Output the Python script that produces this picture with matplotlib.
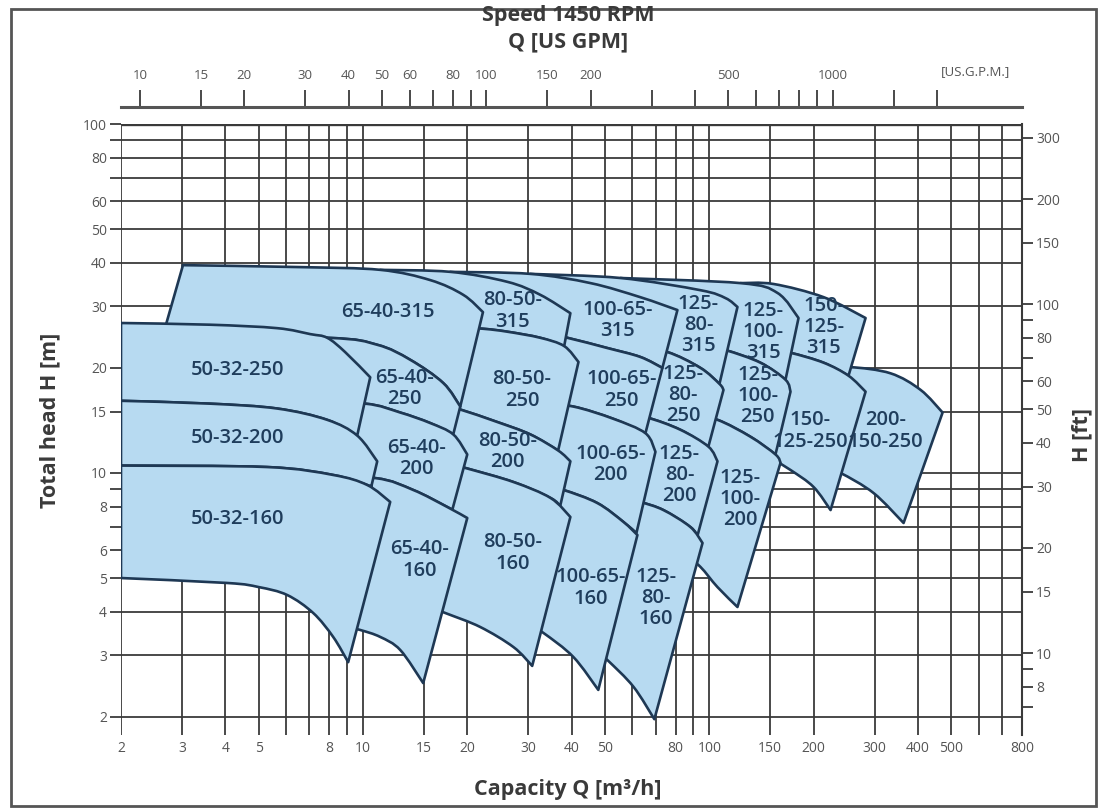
import matplotlib
matplotlib.use("Agg")
import matplotlib.pyplot as plt
import numpy as np
from matplotlib.patches import PathPatch, Rectangle
from matplotlib.path import Path
from matplotlib.ticker import NullLocator

plt.rcParams["font.family"] = ["Open Sans", "DejaVu Sans"]

M3H_TO_GPM = 4.4029
M_TO_FT = 3.28084

Q_GRID = [2, 3, 4, 5, 6, 7, 8, 9, 10, 15, 20, 30, 40, 50, 60, 70, 80, 90,
          100, 150, 200, 300, 400, 500, 600, 700, 800]
Q_LABELS = [2, 3, 4, 5, 8, 10, 15, 20, 30, 40, 50, 80, 100, 150, 200, 300, 400, 500, 800]
H_GRID = [2, 3, 4, 5, 6, 7, 8, 9, 10, 15, 20, 30, 40, 50, 60, 70, 80, 90, 100]
H_LABELS = [2, 3, 4, 5, 6, 8, 10, 15, 20, 30, 40, 50, 60, 80, 100]
FT_TICKS = [7, 8, 9, 10, 15, 20, 30, 40, 50, 60, 70, 80, 90, 100, 150, 200, 300]
FT_LABELS = [8, 10, 15, 20, 30, 40, 50, 60, 80, 100, 150, 200, 300]
GPM_TICKS = [10, 15, 20, 30, 40, 50, 60, 70, 80, 90, 100, 150, 200, 300, 400, 500,
             600, 700, 800, 900, 1000, 1500, 2000]
GPM_LABELS = [10, 15, 20, 30, 40, 50, 60, 80, 100, 150, 200, 500, 1000]

# pump ranges: top curves (Q m3/h, H m), right-hand corner, bottom curves of lowest tiles
top_5032_250 = [(2.0, 26.9), (3.61, 26.6), (5.65, 26.0), (7.04, 25.0), (7.88, 24.4), (8.88, 22.2), (10.49, 18.8)]
corner_5032_250 = (9.62, 12.8)
top_5032_200 = [(2.0, 16.1), (3.61, 15.8), (5.65, 15.3), (7.88, 14.2), (9.62, 12.8), (10.99, 10.8)]
corner_5032_200 = (10.56, 9.12)
top_5032_160 = [(2.0, 10.5), (5.28, 10.4), (8.20, 9.87), (10.28, 9.24), (11.98, 8.26)]
bot_5032_160 = [(9.06, 2.87), (8.20, 3.39), (7.18, 3.97), (6.04, 4.47), (5.0, 4.71), (4.05, 4.84), (2.0, 5.0)]

top_6540_315 = [(3.02, 39.4), (6.58, 38.9), (11.21, 38.2), (15.64, 35.7), (19.47, 32.4), (22.2, 28.9)]
corner_6540_315 = (19.09, 15.5)
top_6540_250 = [(2.64, 24.7), (7.88, 24.4), (10.99, 23.3), (13.69, 21.1), (17.05, 18.1), (19.09, 15.5)]
corner_6540_250 = (18.22, 12.9)
top_6540_200 = [(6.58, 15.9), (10.15, 15.8), (12.81, 14.9), (15.64, 13.9), (18.22, 12.9), (20.0, 11.3)]
corner_6540_200 = (18.10, 7.83)
top_6540_160 = [(6.58, 9.80), (10.84, 9.67), (13.96, 8.94), (17.51, 7.99), (20.0, 7.43)]
bot_6540_160 = [(14.92, 2.50), (12.81, 3.11), (11.21, 3.39), (9.81, 3.55), (8.59, 3.67)]

top_8050_315 = [(11.21, 38.2), (17.86, 37.7), (26.1, 35.3), (32.5, 32.4), (39.7, 28.7)]
corner_8050_315 = (38.1, 23.1)
top_8050_250 = [(16.71, 26.4), (22.2, 25.9), (26.1, 25.4), (32.5, 24.4), (38.1, 23.1), (41.9, 20.8)]
corner_8050_250 = (36.6, 11.6)
top_8050_200 = [(16.71, 15.7), (19.09, 15.2), (24.4, 14.0), (30.4, 12.9), (36.6, 11.6), (39.7, 10.8)]
corner_8050_200 = (37.1, 8.04)
top_8050_160 = [(16.71, 10.8), (20.0, 10.3), (27.2, 9.42), (34.8, 8.48), (39.7, 7.48)]
bot_8050_160 = [(30.8, 2.80), (27.2, 3.17), (21.8, 3.62), (17.28, 3.97), (15.12, 4.18)]

top_10065_315 = [(17.86, 37.7), (30.4, 37.2), (45.4, 35.0), (63.2, 31.9), (80.9, 29.3)]
corner_10065_315 = (73.2, 20.0)
top_10065_250 = [(30.4, 25.7), (38.9, 24.4), (50.8, 22.8), (63.2, 21.5), (73.2, 20.0)]
corner_10065_250 = (65.4, 13.0)
top_10065_200 = [(32.5, 15.8), (40.5, 15.5), (52.8, 14.3), (65.4, 13.0), (69.9, 11.5)]
corner_10065_200 = (61.6, 6.73)
top_10065_160 = [(32.5, 9.24), (37.9, 8.94), (47.5, 8.20), (56.5, 7.24), (62.0, 6.64)]
bot_10065_160 = [(47.8, 2.39), (40.5, 2.97), (33.2, 3.48), (29.4, 3.74)]

top_12580_315 = [(30.4, 37.2), (55.4, 36.2), (94.3, 33.4), (111.4, 31.7), (120.6, 29.9)]
corner_12580_315 = (107.0, 18.0)
top_12580_250 = [(63.2, 22.5), (75.7, 22.2), (94.3, 20.0), (107.0, 18.0), (109.9, 17.3)]
corner_12580_250 = (99.4, 11.9)
top_12580_200 = [(57.2, 14.6), (66.3, 14.4), (82.5, 13.3), (99.4, 11.9), (105.6, 10.8)]
corner_12580_200 = (92.4, 6.60)
top_12580_160 = [(55.4, 8.53), (63.2, 8.26), (73.7, 7.83), (88.2, 7.00), (95.6, 6.30)]
bot_12580_160 = [(69.4, 1.97), (60.4, 2.44), (50.8, 2.91), (45.4, 3.21)]

top_125100_315 = [(55.4, 36.2), (123.0, 35.0), (157.4, 32.8), (181.0, 27.8)]
corner_125100_315 = (166.0, 18.5)
top_125100_250 = [(94.3, 23.3), (111.4, 22.5), (140.5, 20.7), (166.0, 18.5), (171.6, 17.1)]
corner_125100_250 = (155.3, 11.3)
top_125100_200 = [(88.2, 14.7), (105.6, 14.2), (131.5, 12.7), (155.3, 11.3), (160.6, 10.7)]
bot_125100_200 = [(120.6, 4.13), (105.6, 4.71), (94.3, 5.38), (85.3, 5.82)]

top_150125_315 = [(123.0, 35.0), (153.3, 34.8), (213.9, 31.9), (282.7, 27.8)]
corner_150125_315 = (252.4, 19.0)
top_150125_250 = [(150.2, 22.5), (171.6, 22.1), (213.9, 20.7), (252.4, 19.0), (282.7, 17.1)]
bot_150125_250 = [(224.0, 7.83), (200.0, 9.12), (171.6, 10.2), (145.3, 11.3)]

top_200150_250 = [(224.0, 19.7), (255.8, 20.1), (333.9, 19.3), (407.6, 17.3), (471.8, 14.9)]
bot_200150_250 = [(364.0, 7.19), (298.2, 8.76), (239.4, 10.0), (216.6, 10.3)]

# drawing order: right-hand families first, upper tiles first
TILES = [
    ("200-\n150-250", top_200150_250, None, bot_200150_250, (323, 13.2)),
    ("150-\n125-\n315", top_150125_315, corner_150125_315, top_150125_250, (214, 26.2)),
    ("150-\n125-250", top_150125_250, None, bot_150125_250, (196, 13.2)),
    ("125-\n100-\n315", top_125100_315, corner_125100_315, top_125100_250, (143, 25.4)),
    ("125-\n100-\n250", top_125100_250, corner_125100_250, top_125100_200, (138, 16.6)),
    ("125-\n100-\n200", top_125100_200, None, bot_125100_200, (123, 8.42)),
    ("125-\n80-\n315", top_12580_315, corner_12580_315, top_12580_250, (93, 26.6)),
    ("125-\n80-\n250", top_12580_250, corner_12580_250, top_12580_200, (84, 16.7)),
    ("125-\n80-\n200", top_12580_200, corner_12580_200, top_12580_160, (82, 9.87)),
    ("125-\n80-\n160", top_12580_160, None, bot_12580_160, (70, 4.38)),
    ("100-65-\n315", top_10065_315, corner_10065_315, top_10065_250, (54.3, 27.3)),
    ("100-65-\n250", top_10065_250, corner_10065_250, top_10065_200, (55.7, 17.3)),
    ("100-65-\n200", top_10065_200, corner_10065_200, top_10065_160, (51.8, 10.6)),
    ("100-65-\n160", top_10065_160, None, bot_10065_160, (45.4, 4.68)),
    ("80-50-\n315", top_8050_315, corner_8050_315, top_8050_250, (27.0, 29.1)),
    ("80-50-\n250", top_8050_250, corner_8050_250, top_8050_200, (28.8, 17.3)),
    ("80-50-\n200", top_8050_200, corner_8050_200, top_8050_160, (26.1, 11.5)),
    ("80-50-\n160", top_8050_160, None, bot_8050_160, (27.0, 5.90)),
    ("65-40-315", top_6540_315, corner_6540_315, top_6540_250, (11.8, 28.9)),
    ("65-40-\n250", top_6540_250, corner_6540_250, top_6540_200, (13.15, 17.5)),
    ("65-40-\n200", top_6540_200, corner_6540_200, top_6540_160, (14.3, 11.0)),
    ("65-40-\n160", top_6540_160, None, bot_6540_160, (14.6, 5.63)),
    ("50-32-250", top_5032_250, corner_5032_250, top_5032_200, (4.33, 19.7)),
    ("50-32-200", top_5032_200, corner_5032_200, top_5032_160, (4.33, 12.6)),
    ("50-32-160", top_5032_160, None, bot_5032_160, (4.33, 7.38)),
]

FILL = "#b7daf1"
EDGE = "#1e3854"
TEXT = "#1f3d5c"
GRID = "#3a3a3a"
TICK = "#555555"
W, H_PX = 1102, 809


def curve_segments(points):
    # smooth bezier through the read points (built in log space, drawn by matplotlib)
    lp = np.log10(np.asarray(points, dtype=float))
    verts, codes = [], []
    n = len(lp)
    for i in range(n - 1):
        p0 = lp[i - 1] if i > 0 else lp[i]
        p1, p2 = lp[i], lp[i + 1]
        p3 = lp[i + 2] if i + 2 < n else lp[i + 1]
        c1 = p1 + (p2 - p0) / 6
        c2 = p2 - (p3 - p1) / 6
        verts += [10 ** c1, 10 ** c2, 10 ** p2]
        codes += [Path.CURVE4] * 3
    return verts, codes


def tile_path(top, corner, below):
    if corner is None:
        bottom = below
    else:
        bottom = [corner] + [p for p in reversed(below) if p[0] < corner[0]]
    verts, codes = [top[0]], [Path.MOVETO]
    v, c = curve_segments(top)
    verts += v
    codes += c
    verts.append(bottom[0])
    codes.append(Path.LINETO)
    v, c = curve_segments(bottom)
    verts += v
    codes += c
    verts.append(top[0])
    codes.append(Path.CLOSEPOLY)
    return Path(np.array(verts, dtype=float), codes)


fig = plt.figure(figsize=(W / 100, H_PX / 100), dpi=100)
ax = fig.add_axes([121 / W, 1 - 735 / H_PX, (1022 - 121) / W, (735 - 124) / H_PX])
ax.set_xscale("log")
ax.set_yscale("log")
ax.set_xlim(2, 800)
ax.set_ylim(1.775, 100)
for s in ax.spines.values():
    s.set_visible(False)

ax.vlines(Q_GRID, 1.775, 100, color=GRID, lw=1.3, zorder=1)
ax.hlines(H_GRID, 2, 800, color=GRID, lw=1.3, zorder=1)
ax.hlines([100], 2, 800, color=GRID, lw=2.4, zorder=1)

for label, top, corner, below, pos in TILES:
    ax.add_patch(PathPatch(tile_path(top, corner, below), facecolor=FILL,
                           edgecolor=EDGE, lw=1.9, joinstyle="round", zorder=3))
    ax.text(pos[0], pos[1], label, ha="center", va="center", multialignment="center",
            fontsize=14.5, fontweight="semibold", color=TEXT, linespacing=1.08, zorder=10)

tick_font = dict(fontsize=10, color=TICK)
ax.set_xticks(Q_LABELS)
ax.set_xticklabels([str(q) for q in Q_LABELS], **tick_font)
ax.set_yticks(H_GRID)
ax.set_yticklabels([str(h) if h in H_LABELS else "" for h in H_GRID], **tick_font)
ax.xaxis.set_minor_locator(NullLocator())
ax.yaxis.set_minor_locator(NullLocator())
ax.tick_params(axis="x", length=0, pad=4)
ax.tick_params(axis="y", length=8, width=1.3, color=GRID, pad=2)

ft = ax.secondary_yaxis("right", functions=(lambda h: h * M_TO_FT, lambda f: f / M_TO_FT))
ft.set_yticks(FT_TICKS)
ft.set_yticklabels([str(f) if f in FT_LABELS else "" for f in FT_TICKS], **tick_font)
ft.yaxis.set_minor_locator(NullLocator())
ft.tick_params(axis="y", length=8, width=1.3, color=GRID, pad=2)
ft.spines["right"].set_linewidth(1.5)
ft.spines["right"].set_color(GRID)

gpm = ax.secondary_xaxis(1 + 17 / 611, functions=(lambda q: q * M3H_TO_GPM, lambda g: g / M3H_TO_GPM))
gpm.set_xticks(GPM_TICKS)
gpm.set_xticklabels([str(g) if g in GPM_LABELS else "" for g in GPM_TICKS],
                    **dict(tick_font, fontsize=9.5))
gpm.xaxis.set_minor_locator(NullLocator())
gpm.tick_params(axis="x", direction="out", length=12, width=1.3, color=GRID, pad=6)
gpm.spines["top"].set_linewidth(2.2)
gpm.spines["top"].set_color("#555555")

fig.text(975 / W, 1 - 72 / H_PX, "[US.G.P.M.]", ha="center", va="center", **dict(tick_font, fontsize=9.5))
title_font = dict(ha="center", va="center", fontsize=15.5, fontweight="bold", color="#3a3a3a")
fig.text(568 / W, 1 - 15 / H_PX, "Speed 1450 RPM", **title_font)
fig.text(568 / W, 1 - 42 / H_PX, "Q [US GPM]", **title_font)
fig.text(50 / W, 1 - 420 / H_PX, "Total head H [m]", rotation=90, **title_font)
fig.text(1082 / W, 1 - 435 / H_PX, "H [ft]", rotation=90, **title_font)
fig.text(568 / W, 1 - 790 / H_PX, "Capacity Q [m³/h]", **title_font)

fig.patches.append(Rectangle((11 / W, 1 - 806 / H_PX), (1096 - 11) / W, (806 - 9) / H_PX,
                             transform=fig.transFigure, fill=False, lw=2, edgecolor="#555555"))

fig.savefig("out.png", dpi=100, facecolor="white")
